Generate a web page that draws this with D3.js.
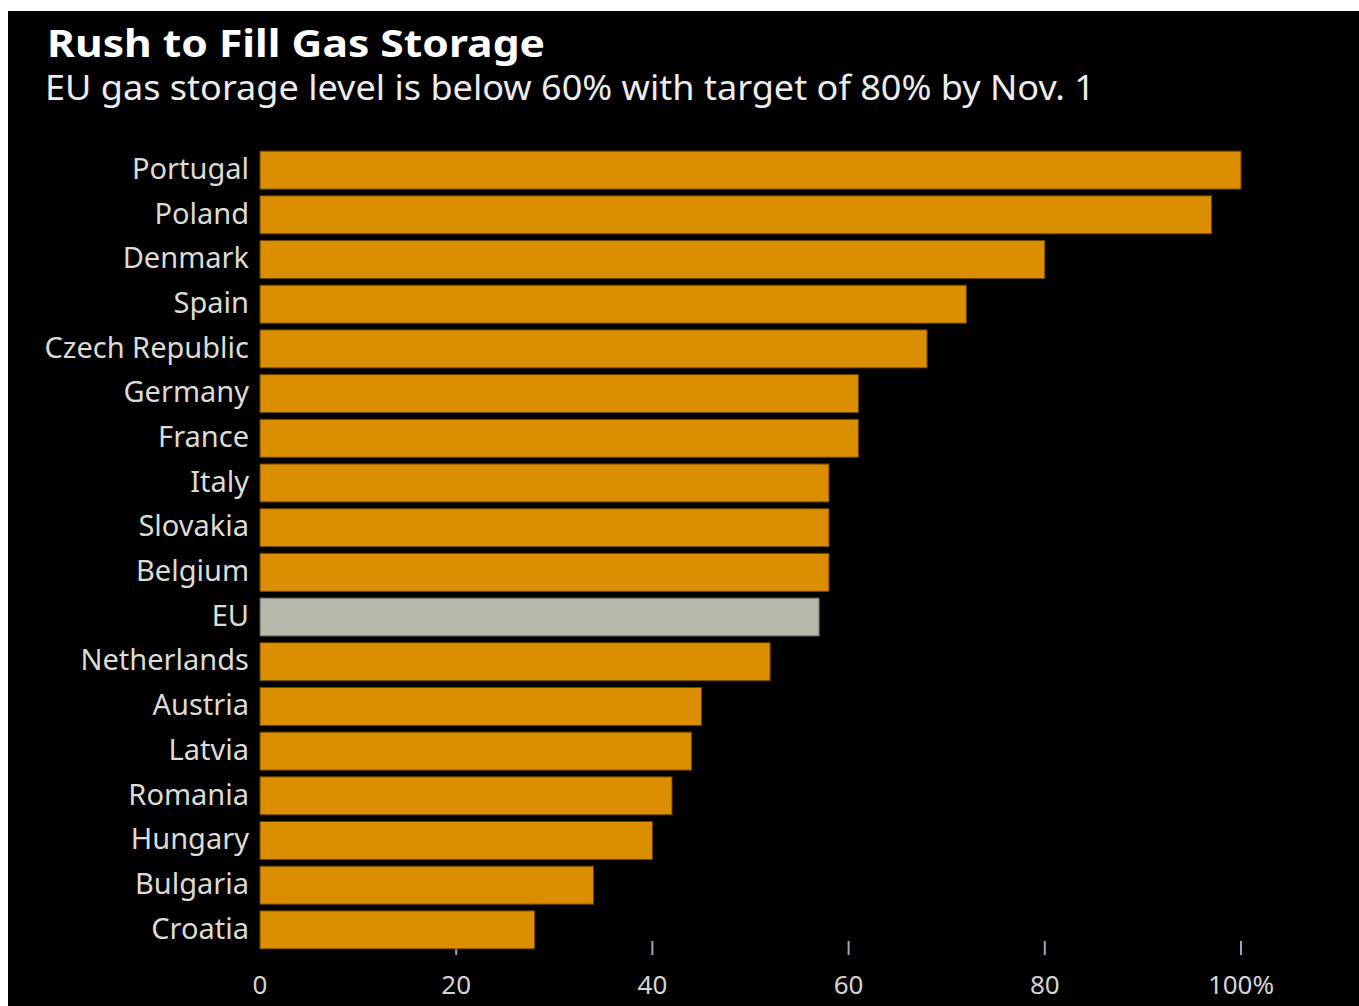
<!DOCTYPE html>
<html>
<head>
<meta charset="utf-8">
<script src="https://cdn.jsdelivr.net/npm/d3@7"></script>
<style>
  html, body { margin: 0; padding: 0; background: #fff; }
  svg { display: block; }
  text { font-family: "Noto Sans", "Open Sans", sans-serif; }
</style>
</head>
<body>
<svg id="chart"></svg>
<script>
(function() {
  'use strict';

  var countries = ['Portugal', 'Poland', 'Denmark', 'Spain', 'Czech Republic', 'Germany',
    'France', 'Italy', 'Slovakia', 'Belgium', 'EU', 'Netherlands', 'Austria', 'Latvia',
    'Romania', 'Hungary', 'Bulgaria', 'Croatia'];
  var levels = [100, 97, 80, 72, 68, 61, 61, 58, 58, 58, 57, 52, 45, 44, 42, 40, 34, 28];
  var ticks = [0, 20, 40, 60, 80, 100];
  var title = 'Rush to Fill Gas Storage';
  var subtitle = 'EU gas storage level is below 60% with target of 80% by Nov. 1';

  var width = 1359, height = 1006;
  var svg = d3.select('#chart').attr('width', width).attr('height', height);

  svg.append('rect')
    .attr('x', 8).attr('y', 11)
    .attr('width', width - 8).attr('height', height - 11)
    .attr('fill', '#000');

  // fit a text to a given width without touching its height
  var fit = function(node, w) {
    node.attr('textLength', w).attr('lengthAdjust', 'spacingAndGlyphs');
  };

  fit(svg.append('text')
    .attr('x', 47).attr('y', 57)
    .attr('fill', '#fff')
    .attr('font-size', 37)
    .attr('font-weight', 'bold')
    .text(title), 498);

  fit(svg.append('text')
    .attr('x', 45).attr('y', 100)
    .attr('fill', '#ececec')
    .attr('font-size', 34)
    .text(subtitle), 1050);

  var x = d3.scaleLinear().domain([0, 100]).range([260, 1241]);
  var y = d3.scaleBand().domain(countries).range([148, 952]).paddingInner(0.15).paddingOuter(0.07);

  // ticks sit under the bars, so the first ones are covered
  var axis = svg.append('g').attr('transform', 'translate(0,955)');
  axis.selectAll('line').data(ticks.filter(function(d) { return d > 0; })).enter().append('line')
    .attr('x1', function(d) { return x(d); })
    .attr('x2', function(d) { return x(d); })
    .attr('y1', -14).attr('y2', 0)
    .attr('stroke', '#a0a4c4')
    .attr('stroke-width', 2);
  axis.selectAll('text').data(ticks).enter().append('text')
    .attr('x', function(d) { return x(d); })
    .attr('y', 39)
    .attr('text-anchor', 'middle')
    .attr('fill', '#d4d4d4')
    .attr('font-size', 26)
    .text(function(d) { return d === 100 ? d + '%' : d; });

  var rows = countries.map(function(c, i) { return { name: c, value: levels[i] }; });

  svg.append('g').selectAll('rect').data(rows).enter().append('rect')
    .attr('x', x(0))
    .attr('y', function(d) { return y(d.name); })
    .attr('width', function(d) { return x(d.value) - x(0); })
    .attr('height', y.bandwidth())
    .attr('fill', function(d) { return d.name === 'EU' ? '#b8b8aa' : '#db8f00'; })
    .attr('stroke', function(d) { return d.name === 'EU' ? '#5a5a50' : '#6e4300'; })
    .attr('stroke-width', 1);

  svg.append('g').selectAll('text').data(rows).enter().append('text')
    .attr('x', 249)
    .attr('y', function(d) { return y(d.name) + y.bandwidth() / 2; })
    .attr('dy', '0.3em')
    .attr('text-anchor', 'end')
    .attr('fill', '#dcdcd4')
    .attr('font-size', 29)
    .text(function(d) { return d.name; });
})();
</script>
</body>
</html>
